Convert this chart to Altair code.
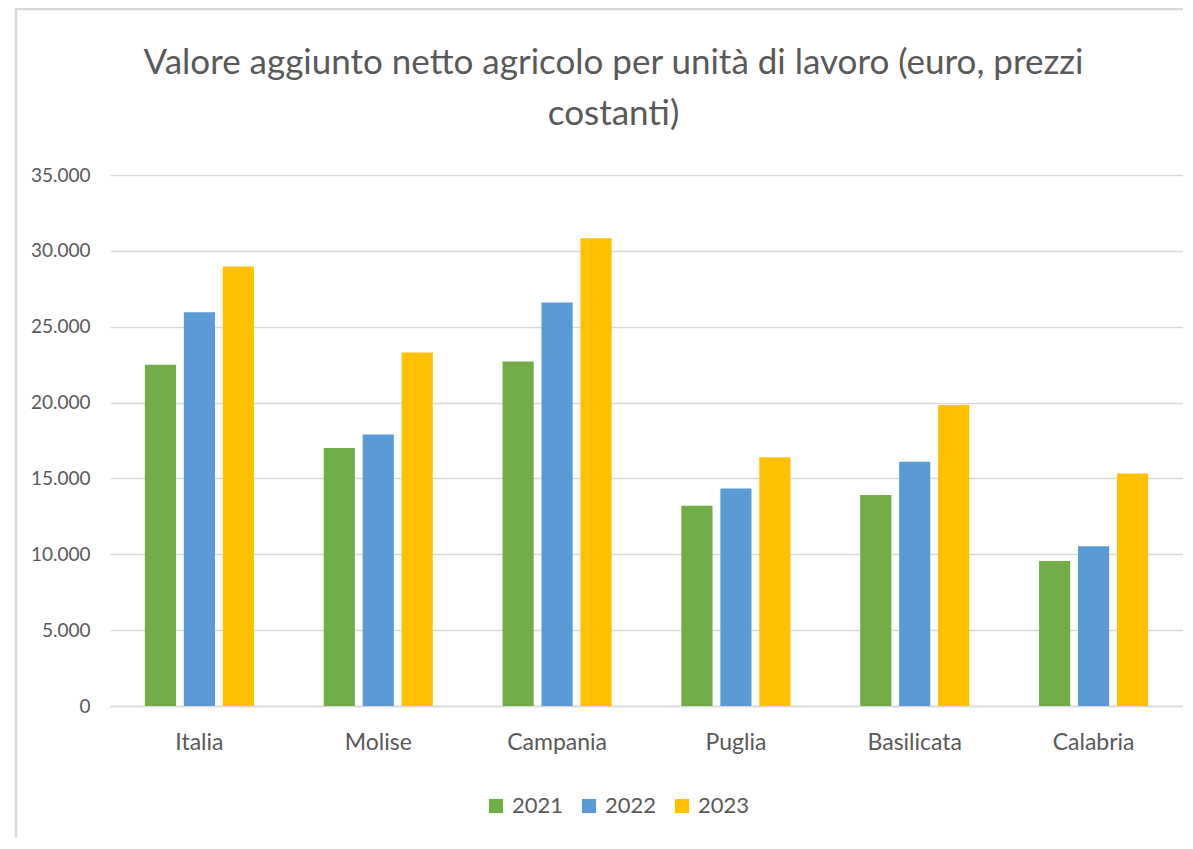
import altair as alt
import pandas as pd

regioni = ["Italia", "Molise", "Campania", "Puglia", "Basilicata", "Calabria"]
anni = ["2021", "2022", "2023"]
v2021 = [22500, 17000, 22700, 13200, 13900, 9560]
v2022 = [25950, 17900, 26600, 14330, 16100, 10530]
v2023 = [28970, 23300, 30830, 16400, 19840, 15320]
colori = ["#70AD47", "#5B9BD5", "#FFC000"]
y_ticks = [0, 5000, 10000, 15000, 20000, 25000, 30000, 35000]

rows = []
for serie, anno in zip([v2021, v2022, v2023], anni):
    for r, v in zip(regioni, serie):
        rows.append({"regione": r, "anno": anno, "valore": v})
df = pd.DataFrame(rows)

FONT = "Lato"
TXT = "#595959"
BORDER = "#d9d9d9"

bars = alt.Chart(df).mark_bar().encode(
    x=alt.X("regione:N", sort=regioni, title=None,
            scale=alt.Scale(paddingInner=0.39, paddingOuter=0.195),
            axis=alt.Axis(labelAngle=0, labelFontSize=23, labelColor=TXT, labelFont=FONT,
                          labelPadding=25, ticks=False, domainColor="#d9d9d9",
                          domainWidth=1.5, grid=False)),
    xOffset=alt.XOffset("anno:N", sort=anni, scale=alt.Scale(paddingInner=0.2, paddingOuter=0)),
    y=alt.Y("valore:Q", title=None, scale=alt.Scale(domain=[0, 35000]),
            axis=alt.Axis(values=y_ticks, domain=False, ticks=False,
                          labelExpr="replace(format(datum.value, ','), ',', '.')",
                          labelFontSize=19, labelColor=TXT, labelFont=FONT, labelPadding=20,
                          gridColor="#d9d9d9", gridWidth=1.5)),
    color=alt.Color("anno:N", sort=anni, scale=alt.Scale(domain=anni, range=colori),
                    legend=alt.Legend(title=None, orient="none", direction="horizontal",
                                      legendX=375, legendY=620, symbolType="square",
                                      symbolSize=200, symbolStrokeWidth=0, labelFontSize=22,
                                      labelColor=TXT, labelFont=FONT, columnPadding=14,
                                      labelOffset=5, padding=0)),
)

frame_src = pd.DataFrame({"k": [0]})
top_line = alt.Chart(frame_src).mark_rule(color=BORDER, strokeWidth=2.5).encode(
    x=alt.value(-95), x2=alt.value(1090), y=alt.value(-166))
left_line = alt.Chart(frame_src).mark_rule(color=BORDER, strokeWidth=2.5).encode(
    x=alt.value(-94), y=alt.value(-167), y2=alt.value(700))

chart = alt.layer(top_line, left_line, bars).properties(
    width=1073, height=531,
    padding={"left": 102, "top": 167, "right": 0, "bottom": 132},
    autosize=alt.AutoSizeParams(type="none"),
    title=alt.TitleParams(["Valore aggiunto netto agricolo per unità di lavoro (euro, prezzi", "costanti)"],
                          fontSize=35, font=FONT, color=TXT, fontWeight="normal",
                          lineHeight=51, offset=35, dx=-33, dy=160, anchor="middle"),
).configure_view(stroke=None)

chart.save("out.html", embed_options={"renderer": "svg", "actions": False})
